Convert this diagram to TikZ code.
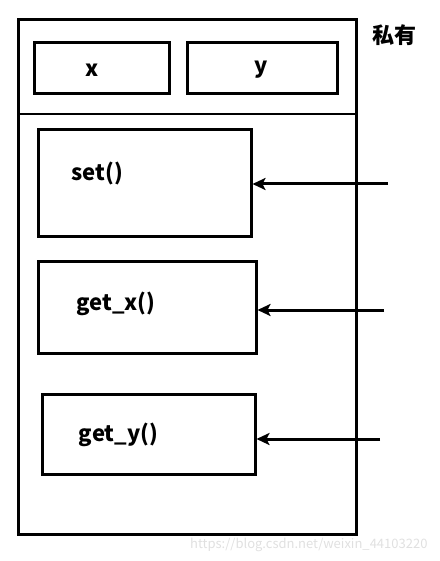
\documentclass[tikz,border=0pt]{standalone}
\usepackage{fontspec}
\setmainfont{Noto Sans CJK SC}[BoldFont={Noto Sans CJK SC Black}]
\usetikzlibrary{arrows.meta}

\tikzset{
  membox/.style={draw=black, line width=3pt, inner sep=0pt},
  memtext/.style={font=\fontsize{22}{26}\selectfont\bfseries, inner sep=0pt},
  callarrow/.style={draw=black, line width=3pt, -{Stealth[length=13pt,width=12pt,inset=3pt]}}
}

\begin{document}
\begin{tikzpicture}[x=1pt,y=-1pt]
  \useasboundingbox (0,0) rectangle (439,561);
  % class outline and divider
  \node[membox, minimum width=338pt, minimum height=514pt] (cls) at (187,277) {};
  \draw[line width=1.5pt] (18,114) -- (356,114);
  \node[memtext, anchor=center] (priv) at (394,35) {私有};
  % data members
  \node[membox, minimum width=135pt, minimum height=51pt] (xbox) at (101.5,68.5) {};
  \node[membox, minimum width=150pt, minimum height=51pt] (ybox) at (262,68.5) {};
  \node[memtext] (xlab) at (92,70) {x};
  \node[memtext] (ylab) at (261,70) {y};
  % member functions
  \node[membox, minimum width=213pt, minimum height=106pt] (setbox) at (144.5,183) {};
  \node[membox, minimum width=218pt, minimum height=92pt] (getxbox) at (147,307) {};
  \node[membox, minimum width=213pt, minimum height=80pt] (getybox) at (148.5,434) {};
  \node[memtext] (setlab) at (97.5,174) {set()};
  \node[memtext] (getxlab) at (116,304) {get\_x()};
  \node[memtext] (getylab) at (118.5,435) {get\_y()};
  % calls from outside
  \coordinate (in1) at (388,184);
  \coordinate (in2) at (384,310);
  \coordinate (in3) at (380,439);
  \draw[callarrow] (in1) -- (in1 -| setbox.east);
  \draw[callarrow] (in2) -- (in2 -| getxbox.east);
  \draw[callarrow] (in3) -- (in3 -| getybox.east);
  % watermark
  \node[text=black!12, font=\fontsize{13}{15}\selectfont, anchor=east] (mark) at (431,545) {https://blog.csdn.net/weixin\_44103220};
\end{tikzpicture}
\end{document}
